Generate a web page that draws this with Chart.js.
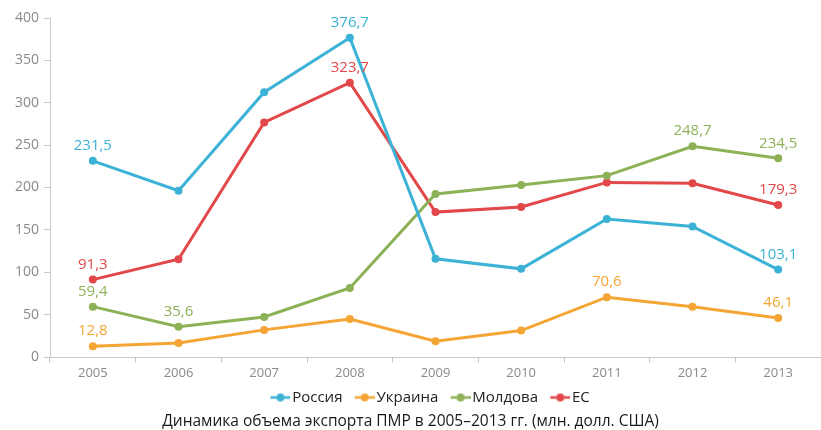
<!DOCTYPE html>
<html>
<head>
<meta charset="utf-8">
<script src="https://cdn.jsdelivr.net/npm/chart.js@4/dist/chart.umd.min.js"></script>
<style>
html,body{margin:0;padding:0;background:#fff;overflow:hidden;}
#wrap{width:821px;height:430px;position:relative;}
</style>
</head>
<body>
<div id="wrap"><canvas id="c"></canvas></div>
<script>
const years = ['2005','2006','2007','2008','2009','2010','2011','2012','2013'];
const russia  = [231.5, 196.3, 312.4, 376.7, 115.8, 104.0, 162.8, 154.0, 103.1];
const ukraine = [12.8, 16.5, 32.0, 44.8, 18.5, 31.2, 70.6, 59.4, 46.1];
const moldova = [59.4, 35.6, 47.2, 81.4, 192.3, 203.0, 214.0, 248.7, 234.5];
const eu      = [91.3, 115.4, 276.8, 323.7, 171.0, 177.0, 206.0, 205.0, 179.3];
const seriesNames = ['Россия', 'Украина', 'Молдова', 'ЕС'];
const seriesColors = ['#3bb2d6', '#f4a534', '#8cb157', '#e2474a'];
// indices of points that carry a value label
const russiaLabels  = [0, 3, 8];
const ukraineLabels = [0, 6, 8];
const moldovaLabels = [0, 1, 7, 8];
const euLabels      = [0, 3, 8];
const yTicks = [0, 50, 100, 150, 200, 250, 300, 350, 400];
const titleText = 'Динамика объема экспорта ПМР в 2005–2013 гг. (млн. долл. США)';

const FONT = "'Open Sans', sans-serif";

// legend icon: "-●-" drawn in the right part of the canvas so it sits next to the text
function legendIcon(color) {
  const cv = document.createElement('canvas');
  cv.width = 26; cv.height = 10;
  const g = cv.getContext('2d');
  g.strokeStyle = color; g.lineWidth = 2.5;
  g.beginPath(); g.moveTo(6, 5); g.lineTo(12, 5); g.moveTo(20, 5); g.lineTo(26, 5); g.stroke();
  g.fillStyle = color;
  g.beginPath(); g.arc(16, 5, 4, 0, Math.PI * 2); g.fill();
  return cv;
}
const icons = seriesColors.map(legendIcon);

const allValues = [russia, ukraine, moldova, eu];
const allLabels = [russiaLabels, ukraineLabels, moldovaLabels, euLabels];

const RIGHT_EXT = 3;

const valueLabels = {
  id: 'valueLabels',
  afterLayout(chart) {
    if (chart.legend) { chart.legend.left += 36; }
    if (chart.titleBlock) { chart.titleBlock.right -= RIGHT_EXT; }
  },
  afterDatasetsDraw(chart) {
    const ctx = chart.ctx;
    ctx.save();
    ctx.font = "15px " + FONT;
    ctx.textAlign = 'center';
    ctx.textBaseline = 'middle';
    chart.data.datasets.forEach((ds, di) => {
      const meta = chart.getDatasetMeta(di);
      allLabels[di].forEach(i => {
        const el = meta.data[i];
        ctx.fillStyle = seriesColors[di];
        ctx.fillText(ds.data[i].toFixed(1).replace('.', ','), el.x, el.y - 15);
      });
    });
    ctx.restore();
  }
};

new Chart(document.getElementById('c'), {
  type: 'line',
  data: {
    labels: years,
    datasets: allValues.map((vals, i) => ({
      label: seriesNames[i],
      data: vals,
      borderColor: seriesColors[i],
      backgroundColor: seriesColors[i],
      borderWidth: 3,
      pointRadius: 4,
      pointHoverRadius: 4,
      pointBorderWidth: 0,
      tension: 0,
      fill: false
    }))
  },
  options: {
    responsive: true,
    maintainAspectRatio: false,
    animation: false,
    layout: { autoPadding: false, padding: { top: 18, right: -RIGHT_EXT, left: 0, bottom: 0 } },
    scales: {
      x: {
        offset: true,
        afterFit(s) { s.paddingLeft = 0; s.paddingRight = 0; s.height = 21; },
        grid: { offset: true, drawOnChartArea: false, drawTicks: true, tickLength: 6, color: '#c8c8c8' },
        border: { color: '#c8c8c8' },
        ticks: { color: '#8a8a8a', font: { family: FONT, size: 13 }, padding: 2.5 }
      },
      y: {
        min: 0, max: 400,
        afterFit(s) { s.width = 50; },
        afterBuildTicks(s) { s.ticks = yTicks.map(v => ({ value: v })); },
        grid: { drawOnChartArea: false, drawTicks: true, tickLength: 6, color: '#c8c8c8' },
        border: { color: '#c8c8c8' },
        ticks: { color: '#8a8a8a', font: { family: FONT, size: 14 }, padding: 5 }
      }
    },
    plugins: {
      legend: {
        position: 'bottom',
        labels: {
          usePointStyle: true,
          pointStyleWidth: 14.5,
          padding: 12,
          color: '#222',
          font: { family: FONT, size: 15 },
          generateLabels(chart) {
            return chart.data.datasets.map((ds, i) => ({
              text: ds.label,
              fillStyle: seriesColors[i],
              strokeStyle: seriesColors[i],
              pointStyle: icons[i],
              lineWidth: 0,
              datasetIndex: i,
              hidden: false,
              fontColor: '#222'
            }));
          }
        }
      },
      title: {
        display: true,
        text: titleText,
        position: 'bottom',
        color: '#1a1a1a',
        font: { family: FONT, size: 15.5, weight: 'normal' },
        padding: { top: -3.1, bottom: -0.5 }
      },
      tooltip: { enabled: false }
    }
  },
  plugins: [valueLabels]
});
</script>
</body>
</html>
